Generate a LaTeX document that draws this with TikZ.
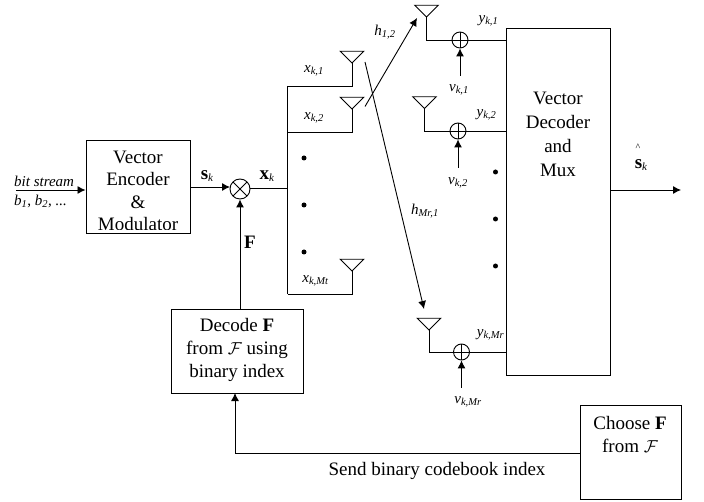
\documentclass[tikz,border=0pt]{standalone}
\usepackage{fontspec}
\setmainfont{Liberation Serif}
\usetikzlibrary{arrows.meta}
\newcommand{\subit}[2]{\textit{#1}\textsubscript{\textit{#2}}}
\newcommand{\boldsub}[2]{\textbf{#1}\raisebox{-2pt}{\fontsize{11}{11}\selectfont\textit{#2}}}

\begin{document}
\begin{tikzpicture}[
x=1pt, y=-1pt,
square/.style={rectangle, draw=black, line width=0.9pt, inner sep=0pt, anchor=north west},
plain_text/.style={inner sep=0pt, font=\fontsize{19}{23}\selectfont},
small_text/.style={inner sep=0pt, font=\fontsize{15}{17}\selectfont},
mixer/.style={circle, draw=black, line width=0.9pt, fill=white, inner sep=0pt, minimum size=20pt, path picture={
  \draw[line width=0.9pt] (path picture bounding box.north west) -- (path picture bounding box.south east);
  \draw[line width=0.9pt] (path picture bounding box.north east) -- (path picture bounding box.south west);}},
adder/.style={circle, draw=black, line width=0.9pt, inner sep=0pt, minimum size=16pt, path picture={
  \draw[line width=0.9pt] (path picture bounding box.north) -- (path picture bounding box.south);
  \draw[line width=0.9pt] (path picture bounding box.east) -- (path picture bounding box.west);}},
dot_mark/.style={circle, fill=black, inner sep=0pt, minimum size=5pt},
wire/.style={line width=0.9pt},
out_arrow/.style={-{Latex[length=8pt,width=8pt]}, line width=0.9pt}
]
\useasboundingbox (0,0) rectangle (704,502);

\node[square, minimum width=104.5pt, minimum height=93.5pt](encoder) at (85.5,140) {};
\begin{scope}
\clip (85.5,140) rectangle (190,229.5);
\node[plain_text, align=center, font=\fontsize{19}{22.6}\selectfont, anchor=north](encoder_text) at (138,150.5) {Vector\\Encoder\\\&\\Modulator};
\end{scope}
\node[square, minimum width=132pt, minimum height=84pt](decode) at (171,309) {};
\node[plain_text, align=center, font=\fontsize{19}{23}\selectfont](decode_text) at (237,350) {Decode \textbf{F}\\from $\mathcal{F}$ using\\binary index};
\node[square, minimum width=104pt, minimum height=347.5pt](decoder) at (506,28) {};
\node[plain_text, align=center, font=\fontsize{19}{24}\selectfont](decoder_text) at (558,134) {Vector\\Decoder\\and\\Mux};
\node[square, minimum width=100.5pt, minimum height=94pt](choose) at (580,405) {};
\node[plain_text, align=center, font=\fontsize{19}{23}\selectfont](choose_text) at (630,435) {Choose \textbf{F}\\from $\mathcal{F}$};

\node[mixer](mix) at (240,189) {};
\node[adder](add_1) at (460,40) {};
\node[adder](add_2) at (458,131) {};
\node[adder](add_3) at (461.5,352) {};

\coordinate (bit_in) at (16,190);
\coordinate (enc_out) at (190,187);
\coordinate (mix_in) at (230,187);
\coordinate (bus_in) at (287.5,188);
\coordinate (bus_top) at (287.5,86);
\coordinate (bus_mid) at (287.5,132);
\coordinate (bus_bot) at (287.5,294);
\coordinate (fb_out) at (580,453);
\coordinate (fb_in) at (235,393);
\coordinate (dec_out) at (610,190);
\coordinate (sink) at (681,190);
\coordinate (dec_1) at (506,40);
\coordinate (dec_2) at (506,131);
\coordinate (dec_3) at (506,352);

% antennas: name, apex x, apex y
\foreach \name/\x/\y in {tx_1/352/63, tx_2/352/109, tx_3/352/271, rx_1/426.5/17, rx_2/424.5/108.5, rx_3/429/330}{
  \coordinate (\name) at (\x,\y);
  \draw[wire] (\name) -- ++(-11.7,-11.7) -- ++(23.4,0) -- cycle;
}

\foreach \x/\y in {304/158, 304/205, 304/252, 495.5/172, 495.5/219, 495.5/266}{
  \node[dot_mark] at (\x,\y) {};
}

\draw[out_arrow](bit_in) -- (encoder.west |- bit_in);
\draw[out_arrow](enc_out) -- (mix_in);
\draw[wire](mix.east |- bus_in) -- (bus_in);
\draw[out_arrow](mix |- decode.north) -- (mix.south);
\draw[wire](bus_top) -- (bus_bot);
\draw[wire](bus_top) -| (tx_1);
\draw[wire](bus_mid) -| (tx_2);
\draw[wire](bus_bot) -| (tx_3);

\draw[wire](rx_1) |- (add_1.west);
\draw[wire](rx_2) |- (add_2.west);
\draw[wire](rx_3) |- (add_3.west);
\draw[wire](add_1) -- (dec_1);
\draw[wire](add_2) -- (dec_2);
\draw[wire](add_3) -- (dec_3);

\coordinate (noise_1) at (460,76);
\coordinate (noise_2) at (458,168);
\coordinate (noise_3) at (461.5,388);
\draw[out_arrow](noise_1) -- (add_1.south);
\draw[out_arrow](noise_2) -- (add_2.south);
\draw[out_arrow](noise_3) -- (add_3.south);

\coordinate (h12_from) at (365,106.5);
\coordinate (h12_to) at (417,18);
\coordinate (hmr_from) at (365,62);
\coordinate (hmr_to) at (424,309);
\draw[out_arrow](h12_from) -- (h12_to);
\draw[out_arrow](hmr_from) -- (hmr_to);

\draw[out_arrow](dec_out) -- (sink);
\draw[out_arrow](fb_out) -| (fb_in);

\node[small_text, anchor=west](bit_label) at (14,181.5) {\textit{bit stream}};
\node[small_text, anchor=west](bit_vals) at (14,201) {\subit{b}{1}, \subit{b}{2}, \textit{...}};
\node[plain_text](s_label) at (207,176) {\boldsub{s}{k}};
\node[plain_text](x_label) at (267,176) {\boldsub{x}{k}};
\node[plain_text](f_label) at (250,242) {\textbf{F}};
\node[small_text](x1_label) at (314,71) {\subit{x}{k,1}};
\node[small_text](x2_label) at (314,118) {\subit{x}{k,2}};
\node[small_text](xm_label) at (315.5,281) {\subit{x}{k,Mt}};
\node[small_text](h12_label) at (385,32) {\subit{h}{1,2}};
\node[small_text](hm_label) at (425,211) {\subit{h}{Mr,1}};
\node[small_text](y1_label) at (488.5,21) {\subit{y}{k,1}};
\node[small_text](y2_label) at (486.5,115) {\subit{y}{k,2}};
\node[small_text](ym_label) at (490.5,335) {\subit{y}{k,Mr}};
\node[small_text](v1_label) at (459,90) {\subit{v}{k,1}};
\node[small_text](v2_label) at (458,183) {\subit{v}{k,2}};
\node[small_text](vm_label) at (468,402) {\subit{v}{k,Mr}};
\node[plain_text](shat_label) at (641,165) {\boldsub{s}{k}};
\node[inner sep=0pt, font=\fontsize{10}{10}\selectfont](hat_label) at (638,147.5) {\textasciicircum};
\node[plain_text](send_label) at (437,471) {Send binary codebook index};
\end{tikzpicture}
\end{document}
